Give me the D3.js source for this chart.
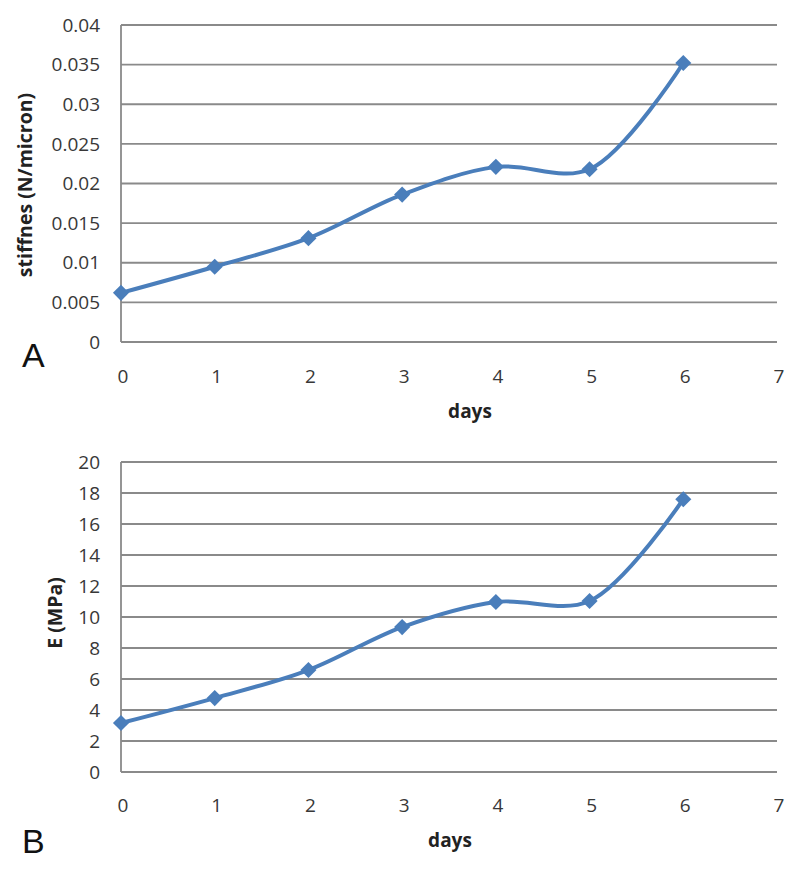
<!DOCTYPE html>
<html><head><meta charset="utf-8">
<script src="https://cdn.jsdelivr.net/npm/d3@7"></script>
<style>body{margin:0;background:#fff}</style>
</head><body>
<svg id="c" width="800" height="872"></svg>
<script>
const days = [0,1,2,3,4,5,6];
const stiffness = [0.0062,0.0095,0.0131,0.0186,0.0221,0.0218,0.0352];
const modulus = [3.16,4.77,6.58,9.35,10.97,11.03,17.6];
const xTicks = [0,1,2,3,4,5,6,7];
const yTicksA = [0,0.005,0.01,0.015,0.02,0.025,0.03,0.035,0.04];
const yTicksB = [0,2,4,6,8,10,12,14,16,18,20];

const svg = d3.select("#c");
const blue = "#4A7EBB";
const font = "Open Sans, sans-serif";

function panel(cfg){
  const g = svg.append("g");
  const x = d3.scaleLinear().domain([0,7]).range([121,777]);
  const y = d3.scaleLinear().domain(cfg.ydom).range([cfg.bottom,cfg.top]);
  g.selectAll("line.grid").data(cfg.yticks).join("line")
    .attr("x1",x(0)).attr("x2",x(7))
    .attr("y1",d=>y(d)).attr("y2",d=>y(d))
    .attr("stroke","#8a8a8a").attr("stroke-width",1.8);
  g.append("line").attr("x1",x(0)).attr("x2",x(0))
    .attr("y1",y(cfg.ydom[0])).attr("y2",y(cfg.ydom[1]))
    .attr("stroke","#8a8a8a").attr("stroke-width",1.8);
  g.selectAll("text.yt").data(cfg.yticks).join("text")
    .attr("x",100).attr("y",d=>y(d)).attr("dy","0.35em")
    .attr("text-anchor","end").attr("font-family",font).attr("font-size",19)
    .attr("fill","#383838").text(d=>cfg.fmt(d));
  g.selectAll("text.xt").data(xTicks).join("text")
    .attr("x",d=>x(d)+2).attr("y",cfg.bottom+cfg.xlabOff).attr("dy","0.35em")
    .attr("text-anchor","middle").attr("font-family",font).attr("font-size",19)
    .attr("fill","#383838").text(d=>d);
  g.append("text").attr("x",cfg.xtitleX).attr("y",cfg.xtitleY)
    .attr("text-anchor","middle").attr("font-family",font).attr("font-size",19)
    .attr("font-weight","bold").attr("fill","#222").text("days");
  g.append("text").attr("transform",`translate(${cfg.ytitleX},${cfg.ytitleY}) rotate(-90)`)
    .attr("text-anchor","middle").attr("dy","0.35em").attr("font-family",font).attr("font-size",19.5)
    .attr("font-weight","bold").attr("fill","#222").text(cfg.ytitle);
  g.append("text").attr("x",22).attr("y",cfg.letterY)
    .attr("font-family","Liberation Sans, Arial, sans-serif").attr("font-size",34)
    .attr("fill","#111").text(cfg.letter);
  const line = d3.line().x((d,i)=>x(days[i])).y(d=>y(d)).curve(d3.curveCatmullRom.alpha(0.5));
  g.append("path").datum(cfg.values).attr("d",line)
    .attr("fill","none").attr("stroke",blue).attr("stroke-width",4);
  const sym = d3.symbol().type(d3.symbolSquare).size(130);
  g.selectAll("path.m").data(cfg.values).join("path")
    .attr("d",sym)
    .attr("transform",(d,i)=>`translate(${x(days[i])},${y(d)}) rotate(45)`)
    .attr("fill",blue);
}

panel({ydom:[0,0.04], top:25, bottom:342, yticks:yTicksA, values:stiffness,
  fmt:d=>d===0?"0":String(+d.toFixed(3)), xlabOff:34, xtitleX:470, xtitleY:418,
  ytitle:"stiffnes (N/micron)", ytitleX:25, ytitleY:185, letter:"A", letterY:367});
panel({ydom:[0,20], top:462, bottom:772, yticks:yTicksB, values:modulus,
  fmt:d=>String(d), xlabOff:33, xtitleX:450, xtitleY:847,
  ytitle:"E (MPa)", ytitleX:55, ytitleY:613, letter:"B", letterY:853});
</script>
</body></html>
